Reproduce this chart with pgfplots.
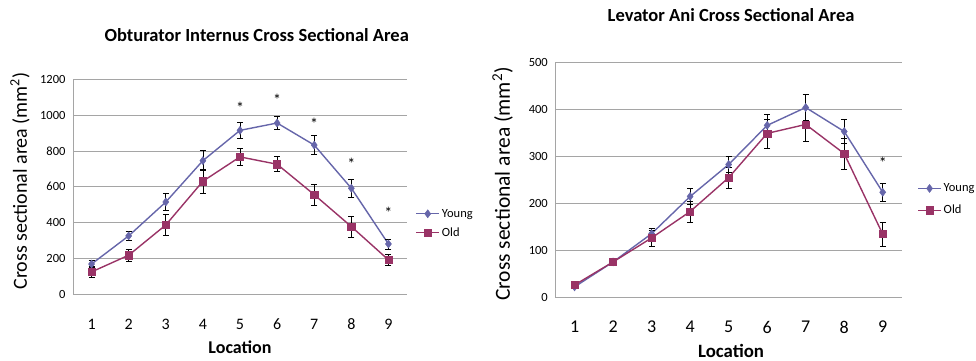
\documentclass[border=0pt]{standalone}
\usepackage{pgfplots}
\pgfplotsset{compat=1.18}
\usepackage{fontspec}
\setmainfont{Carlito}
\definecolor{young}{RGB}{102,102,170}
\definecolor{old}{RGB}{153,51,102}
\definecolor{gridc}{RGB}{165,165,165}

\pgfplotstableread{
x y ey
1 169 20
2 326 27
3 515 47
4 746 56
5 915 43
6 956 36
7 833 53
8 592 50
9 281 28
}\oiyoung
\pgfplotstableread{
x y ey
1 125 30
2 218 33
3 387 60
4 631 67
5 767 47
6 726 42
7 556 60
8 378 58
9 192 32
}\oiold
\pgfplotstableread{
x y ey
1 23 4
2 76 4
3 136 11
4 215 17
5 283 17
6 366 24
7 404 27
8 353 25
9 224 20
}\layoung
\pgfplotstableread{
x y ey
1 27 5
2 76 6
3 127 17
4 183 22
5 255 22
6 349 31
7 368 36
8 306 33
9 135 25
}\laold

\pgfplotsset{
  mystyle/.style={
    scale only axis,
    anchor=south west,
    clip=false,
    xmin=0.5, xmax=9.5,
    xtick={1,...,9},
    ymin=0,
    axis lines*=left,
    axis line style={gridc, line width=0.8pt},
    ymajorgrids,
    grid style={gridc, line width=0.8pt},
    xtick style={draw=none},
    ytick style={draw=none},
    yticklabel style={font=\fontsize{12.5}{12.5}\selectfont, xshift=-4pt},
    xlabel={\textbf{Location}},
    ylabel={Cross sectional area (mm\textsuperscript{2})},
    legend style={draw=none, fill=none, anchor=west, font=\fontsize{12.5}{12.5}\selectfont, row sep=5pt, legend cell align=left},
    legend image code/.code={\draw[mark repeat=2,mark phase=2] plot coordinates {(0pt,0pt) (11.5pt,0pt) (23pt,0pt)};},
    /pgf/number format/assume math mode=true,
    /pgf/number format/1000 sep={},
  },
  yser/.style={color=young, line width=1.4pt, mark=diamond*, mark size=4pt,
    mark options={fill=young, draw=young, line width=0.5pt},
    error bars/.cd, y dir=both, y explicit,
    error bar style={black, line width=0.6pt},
    error mark options={rotate=90, mark size=3pt, black, line width=0.6pt}},
  oser/.style={color=old, line width=1.4pt, mark=square*, mark size=3.6pt,
    mark options={fill=old, draw=old, line width=0.5pt},
    error bars/.cd, y dir=both, y explicit,
    error bar style={black, line width=0.6pt},
    error mark options={rotate=90, mark size=3pt, black, line width=0.6pt}},
}

\begin{document}
\begin{tikzpicture}
\useasboundingbox (0pt,0pt) rectangle (976pt,360pt);
\coordinate (A) at (73pt,65.7pt);
\coordinate (B) at (555.3pt,62.3pt);
\begin{axis}[mystyle,
  at={(A)}, width=334pt, height=215pt,
  ymax=1200, ytick={0,200,...,1200},
  xticklabel style={font=\fontsize{16}{16}\selectfont, yshift=-21pt},
  xlabel style={font=\bfseries\fontsize{18}{18}\selectfont, at={(rel axis cs:0.5,-0.244)}, anchor=center},
  ylabel style={font=\fontsize{20}{20}\selectfont, at={(rel axis cs:-0.159,0.527)}, anchor=center},
  legend style={at={(rel axis cs:1.016,0.33)}},
]
\addplot+[yser] table[x=x, y=y, y error=ey] {\oiyoung};
\addlegendentry{Young}
\addplot+[oser] table[x=x, y=y, y error=ey] {\oiold};
\addlegendentry{Old}
\node[font=\fontsize{16}{16}\selectfont] at (axis cs:5,1040) {*};
\node[font=\fontsize{16}{16}\selectfont] at (axis cs:6,1086) {*};
\node[font=\fontsize{16}{16}\selectfont] at (axis cs:7,954) {*};
\node[font=\fontsize{16}{16}\selectfont] at (axis cs:8,726) {*};
\node[font=\fontsize{16}{16}\selectfont] at (axis cs:9,456) {*};
\node[font=\bfseries\fontsize{18.5}{18.5}\selectfont] at (rel axis cs:0.55,1.205) {Obturator Internus Cross Sectional Area};
\end{axis}
\begin{axis}[mystyle,
  at={(B)}, width=346.7pt, height=235.4pt,
  ymax=500, ytick={0,100,...,500},
  xticklabel style={font=\fontsize{18}{18}\selectfont, yshift=-20pt},
  xlabel style={font=\bfseries\fontsize{18.8}{18.8}\selectfont, at={(rel axis cs:0.507,-0.225)}, anchor=center},
  ylabel style={font=\fontsize{21.5}{21.5}\selectfont, at={(rel axis cs:-0.152,0.483)}, anchor=center},
  legend style={at={(rel axis cs:1.035,0.417)}, row sep=8pt},
]
\addplot+[yser] table[x=x, y=y, y error=ey] {\layoung};
\addlegendentry{Young}
\addplot+[oser] table[x=x, y=y, y error=ey] {\laold};
\addlegendentry{Old}
\node[font=\fontsize{16}{16}\selectfont] at (axis cs:9,287) {*};
\node[font=\bfseries\fontsize{18.5}{18.5}\selectfont] at (rel axis cs:0.507,1.201) {Levator Ani Cross Sectional Area};
\end{axis}
\end{tikzpicture}
\end{document}
